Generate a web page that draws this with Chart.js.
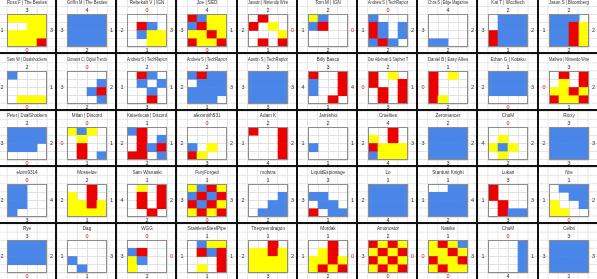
<!DOCTYPE html>
<html>
<head>
<meta charset="utf-8">
<script src="https://cdn.jsdelivr.net/npm/chart.js@4.4.0/dist/chart.umd.min.js"></script>
<style>
  html, body { margin: 0; padding: 0; }
  body {
    width: 597px; height: 279px; overflow: hidden; position: relative;
    background-color: #fff;
    background-image: linear-gradient(to right, #e4e4e4 1px, transparent 1px),
                      linear-gradient(to bottom, #e4e4e4 1px, transparent 1px);
    background-size: 10.03px 8.07px;
    background-position: 6.7px 14px;
  }
  canvas.card { position: absolute; }
  .sep { position: absolute; background: #111; z-index: 2; }
</style>
</head>
<body>
<script>
// cards, left to right then top to bottom
const titles = [
  "Russ F | The Besties", "Griffin M | The Besties", "Rebekah V | IGN", "Joe | SED", "Jaxson | Nintendo Wire",
  "Tom M | IGN", "Andrew S | TechRaptor", "Chris S | Edge Magazine", "Kai T | Wccftech", "Jason S | Bloomberg",
  "Sam W | Dualshockers", "Giovanni C | Digital Trends", "Andrew S | TechRaptor", "Andrew S | TechRaptor", "Austin S | TechRaptor",
  "Billy Basco", "Dan Adelman & Stephen T", "Daniel B | Easy Allies", "Ethan G | Kotaku", "Mathew | Nintendo Wire",
  "Peter | DualShockers", "Milan | Discord", "Kaiserlucas | Discord", "alexsmith531", "Adam K",
  "Jamishio", "Cruelties", "Zeromancer", "ChuM", "Rioxy",
  "eloim9314", "Mosseloe", "Sam Wisnaski", "FuryForged", "mofstra",
  "LiquidEspionage", "Lo", "Stardust Knight", "Lukari", "Nre",
  "Rye", "Dag", "WGG", "StainlessSteelPipe", "Thegreendragon",
  "Mordak", "Amonostor", "Nasike", "ChuM", "Celbit"
];
const topNums    = [3,4,0,4,2, 2,0,4,2,2, 2,0,2,2,3, 3,2,1,1,3, 2,0,1,0,2, 2,4,2,0,3, 0,2,1,1,1, 3,1,1,3,1, 3,0,0,1,1, 1,2,1,0,3];
const leftNums   = [1,3,2,3,2, 1,1,3,3,1, 2,3,1,2,3, 4,0,0,2,0, 3,0,2,2,1, 1,2,3,4,2, 2,2,4,3,2, 3,2,1,1,1, 2,1,3,1,2, 1,3,0,1,3];
const rightNums  = [3,1,3,1,0, 0,2,2,2,2, 1,2,1,3,3, 4,1,2,3,2, 2,1,1,2,2, 1,3,2,2,3, 4,1,2,3,3, 1,1,4,3,2, 2,3,0,1,2, 0,0,3,1,3];
const bottomNums = [0,2,1,0,1, 2,2,2,1,2, 0,2,3,1,3, 1,3,2,0,1, 0,1,2,3,4, 1,4,3,2,3, 3,1,2,0,2, 1,4,2,3,0, 0,1,2,1,3, 2,0,0,4,1];
// 4x4 cells per card, top row first: R red, Y yellow, B blue, W empty
const cells = [
  ["YYYY","WWYY","YYYY","YYYR"], ["BBBB","BBBB","BBBB","BBBB"], ["WWWW","WRBW","WBYY","WWYY"], ["RBYY","BRYY","YYRY","RYYR"], ["WRWW","RWYW","WWWY","WRWR"],
  ["YBWW","BRWW","WWWW","WWWW"], ["BWWW","RBWB","RBWB","BRBW"], ["WWWW","WWWW","WWWW","BBWW"], ["WBBB","WBBB","RBBB","RBBB"], ["BBBW","BBRY","BBRY","BBRY"],
  ["BWWW","WWWW","WWWW","WYYY"], ["WWWW","WWWB","WWBR","WWWB"], ["WRBW","WBWB","WWBW","WWRW"], ["BRBB","WBBB","BBBB","BBBW"], ["BBBB","BBBB","BBBB","BBBB"],
  ["RWWR","BWWR","BWWR","WWRW"], ["RWYW","RWWR","WRWR","WRWR"], ["RWYW","RWWW","RWWW","RYWW"], ["BBBB","BBBB","BBBB","WWWW"], ["WRWR","WYWR","YYRY","RYYR"],
  ["BBBB","BBBB","BBBW","WWWW"], ["YBYW","WYWW","WRWW","WRWB"], ["BRWW","WRWB","WRBR","RRWB"], ["WWWW","WWWW","BWYW","RYWW"], ["RWWR","WWWR","WWWR","WWWR"],
  ["WWWW","WWWW","BWWW","WWWW"], ["WWRW","YWRW","RYYY","BYYY"], ["BBBB","BBBB","BBBB","BBBB"], ["WWWW","WYWW","YBYW","WYWW"], ["BBBB","BBBB","BBBB","BBBB"],
  ["BBWW","BBWW","BBWW","BWWW"], ["WWRW","YWRW","YYRY","YYYY"], ["WYWR","WRWR","WRWR","WWRW"], ["YBRY","BRBR","RBRY","YRYR"], ["WWWW","WWWB","WWBB","WBBB"],
  ["WWWW","BBWW","WBBW","RWBB"], ["BBBB","BBBB","BBBB","BBBB"], ["WWBB","BBBB","BBBB","BBBB"], ["RWWW","RWWW","WRWW","WRBB"], ["WBBB","WWBB","YWWB","YYWW"],
  ["BBBB","BBBB","BBBB","WWWW"], ["WWWW","WWWW","BWWW","WBWW"], ["WWWW","BRWW","YBWW","YWWW"], ["WBYY","WRBR","WWWR","WYWR"], ["WWRW","YYRY","YYYY","YYYY"],
  ["WWRW","WYRW","YYRY","YRYR"], ["RYRY","YRYR","RYRY","YRYR"], ["YRYB","YYRY","RYYR","YRYY"], ["WWWB","WWWB","WWWB","WWWB"], ["BBBB","BBBB","BBBB","BBBB"]
];
const columns = ["1", "2", "3", "4"];

const palette = { R: "#ec0000", Y: "#ffff00", B: "#4a86e8", W: "rgba(0,0,0,0)" };
const FONT = '"Liberation Sans", Arial, sans-serif';

// white cell background, outline and the four edge numbers
const cardDecor = {
  id: "cardDecor",
  beforeDraw(chart) {
    const { ctx, chartArea: a } = chart;
    ctx.save();
    ctx.fillStyle = "#fff";
    ctx.fillRect(a.left, a.top, a.width, a.height);
    ctx.restore();
  },
  afterDatasetsDraw(chart, args, opts) {
    const { ctx, chartArea: a } = chart;
    ctx.save();
    ctx.strokeStyle = "#8c8c8c";
    ctx.lineWidth = 1;
    ctx.strokeRect(a.left + 0.5, a.top + 0.5, a.width - 1, a.height - 1);
    ctx.font = "5.5px " + FONT;
    ctx.textAlign = "center";
    ctx.textBaseline = "middle";
    const cx = (a.left + a.right) / 2, cy = (a.top + a.bottom) / 2;
    [[opts.top, cx, a.top - 4], [opts.bottom, cx, a.bottom + 3.5],
     [opts.left, a.left - 5, cy], [opts.right, a.right + 4.5, cy]].forEach(([v, x, y]) => {
      ctx.fillStyle = v === 0 ? "#e01010" : "#333";
      ctx.fillText(String(v), x, y);
    });
    ctx.restore();
  }
};

const colX = c => 6.7 + 60.2 * c;
const rowY = r => 14 + 56.5 * r;

titles.forEach((title, i) => {
  const r = Math.floor(i / 10), c = i % 10;
  const cv = document.createElement("canvas");
  cv.className = "card";
  cv.width = 60; cv.height = 56;
  cv.style.left = Math.round(colX(c) - 11) + "px";
  cv.style.top = Math.round(rowY(r) - 16) + "px";
  document.body.appendChild(cv);

  // stacked bars: bottom row first
  const datasets = [3, 2, 1, 0].map(row => ({
    data: columns.map(() => 1),
    backgroundColor: cells[i][row].split("").map(ch => palette[ch]),
    borderWidth: 0,
    barPercentage: 1,
    categoryPercentage: 1
  }));

  new Chart(cv, {
    type: "bar",
    data: { labels: columns, datasets },
    options: {
      responsive: false,
      animation: false,
      events: [],
      layout: { padding: { left: 11, right: 9, top: 0, bottom: 7 } },
      scales: {
        x: { stacked: true, grid: { color: "#e2e2e2", drawTicks: false, offset: true },
             border: { display: false }, ticks: { display: false } },
        y: { stacked: true, min: 0, max: 4, grid: { color: "#e2e2e2", drawTicks: false },
             border: { display: false }, ticks: { display: false, stepSize: 1 } }
      },
      plugins: {
        legend: { display: false },
        tooltip: { enabled: false },
        title: { display: true, text: title, color: "#333",
                 font: { family: FONT, size: 4.6, weight: "normal", lineHeight: 1 },
                 padding: { top: 2, bottom: 9.4 } },
        cardDecor: { top: topNums[i], left: leftNums[i], right: rightNums[i], bottom: bottomNums[i] }
      }
    },
    plugins: [cardDecor]
  });
});

// thick card separators
for (let c = 1; c < 10; c++) {
  const d = document.createElement("div");
  d.className = "sep";
  d.style.cssText = `left:${Math.round(colX(c) - 12)}px;top:0;width:2px;height:279px;`;
  document.body.appendChild(d);
}
for (let r = 1; r < 5; r++) {
  const d = document.createElement("div");
  d.className = "sep";
  d.style.cssText = `top:${Math.round(rowY(r) - 18.5)}px;left:0;height:2px;width:597px;`;
  document.body.appendChild(d);
}
</script>
</body>
</html>
